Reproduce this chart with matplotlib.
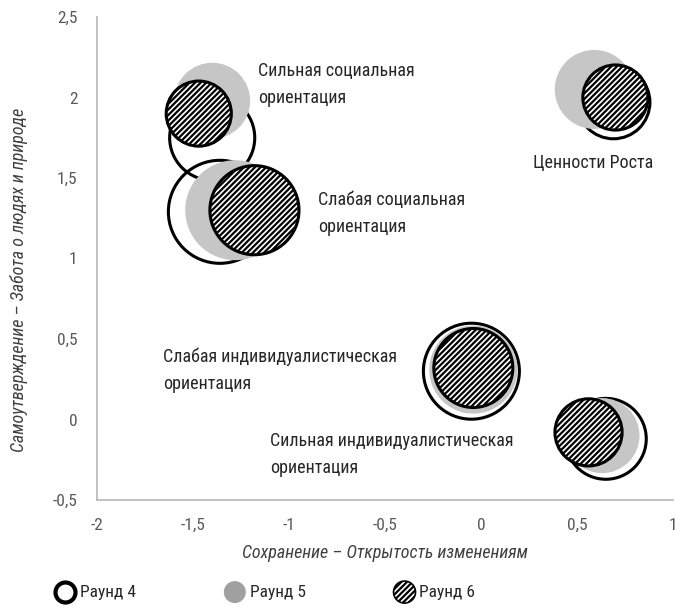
import numpy as np
import matplotlib
matplotlib.use("Agg")
from matplotlib import pyplot as plt
from matplotlib import font_manager

# value orientation groups (labels are drawn next to bubbles)
groups = ["Сильная социальная\nориентация", "Слабая социальная\nориентация",
          "Ценности Роста", "Слабая индивидуалистическая\nориентация",
          "Сильная индивидуалистическая\nориентация"]
rounds = ["Раунд 4", "Раунд 5", "Раунд 6"]

# x: Сохранение – Открытость изменениям, y: Самоутверждение – Забота
x_r4 = [-1.40, -1.36, 0.69, -0.05, 0.65]
y_r4 = [1.75, 1.29, 1.97, 0.30, -0.12]
b_r4 = [19.4, 28.1, 14.4, 24.5, 17.6]

x_r5 = [-1.40, -1.28, 0.59, -0.04, 0.63]
y_r5 = [1.98, 1.30, 2.05, 0.31, -0.10]
b_r5 = [14.4, 25.0, 15.6, 19.4, 14.1]

x_r6 = [-1.47, -1.18, 0.70, -0.04, 0.56]
y_r6 = [1.90, 1.30, 2.00, 0.32, -0.08]
b_r6 = [11.6, 21.2, 11.6, 16.8, 12.3]

xticks = [-2, -1.5, -1, -0.5, 0, 0.5, 1]
yticks = [-0.5, 0, 0.5, 1, 1.5, 2, 2.5]

names = [f.name for f in font_manager.fontManager.ttflist]
fam = "DejaVu Sans"
for cand in ["Liberation Sans Narrow", "Roboto Condensed", "Arial Narrow", "Liberation Sans"]:
    if cand in names:
        fam = cand
        break
plt.rcParams["font.family"] = [fam, "DejaVu Sans"]
plt.rcParams["hatch.linewidth"] = 1.6

DPI = 100
fig = plt.figure(figsize=(6.75, 6.06), dpi=DPI)
ax = fig.add_axes([97 / 675, 106 / 606, 576 / 675, 483 / 606])

def bubble_s(vals, lw_px=0.0):
    # bubble area proportional to value, returned as marker size in pt^2
    r = np.sqrt(np.array(vals)) * 10 - lw_px / 2
    return (2 * r * 72 / DPI) ** 2

ax.scatter(x_r4, y_r4, s=bubble_s(b_r4, 3), facecolors="none", edgecolors="black",
           linewidths=2.2, zorder=2)
ax.scatter(x_r5, y_r5, s=bubble_s(b_r5), facecolors="#c6c6c6", edgecolors="none", zorder=3)
ax.scatter(x_r6, y_r6, s=bubble_s(b_r6, 3), facecolors="white", edgecolors="black",
           linewidths=2.2, hatch="//////", zorder=4)

ax.set_xlim(-2, 1)
ax.set_ylim(-0.5, 2.5)
ax.set_xticks(xticks)
ax.set_yticks(yticks)
fmt = lambda v: ("%g" % v).replace(".", ",")
ax.set_xticklabels([fmt(v) for v in xticks])
ax.set_yticklabels([fmt(v) for v in yticks])
ax.tick_params(length=0, labelsize=12.5, labelcolor="#595959")
ax.tick_params(axis="x", pad=13)
ax.tick_params(axis="y", pad=14)
for sp in ["top", "right"]:
    ax.spines[sp].set_visible(False)
for sp in ["left", "bottom"]:
    ax.spines[sp].set_color("#bcbcbc")
    ax.spines[sp].set_linewidth(1.3)

ax.set_xlabel("Сохранение – Открытость изменениям", fontsize=13, style="italic",
              color="#404040", labelpad=8)
ax.set_ylabel("Самоутверждение – Забота о людях и природе", fontsize=13, style="italic",
              color="#404040")
ax.yaxis.set_label_coords(-0.12, 0.455)

# group labels
lab_pos = [(-1.16, 2.08, "left"), (-0.85, 1.28, "left"), (0.583, 1.593, "center"),
           (-1.656, 0.307, "left"), (-1.10, -0.217, "left")]
for g, (lx, ly, ha) in zip(groups, lab_pos):
    ax.text(lx, ly, g, fontsize=13, color="#262626", ha=ha, va="center",
            linespacing=1.65, zorder=5)

# legend
h4 = ax.scatter([], [], s=(20 * 0.72) ** 2, facecolors="white", edgecolors="black", linewidths=3)
h5 = ax.scatter([], [], s=(22 * 0.72) ** 2, facecolors="#a0a0a0", edgecolors="none")
h6 = ax.scatter([], [], s=(22 * 0.72) ** 2, facecolors="white", edgecolors="black",
                linewidths=1.2, hatch="//////")
fig.legend([h4, h5, h6], rounds, loc="center", bbox_to_anchor=(0.39, 0.023), ncol=3,
           frameon=False, fontsize=12.5, handletextpad=0.05, columnspacing=4.9,
           labelcolor="#262626", handlelength=1.6)

fig.savefig("out.png", dpi=DPI)
